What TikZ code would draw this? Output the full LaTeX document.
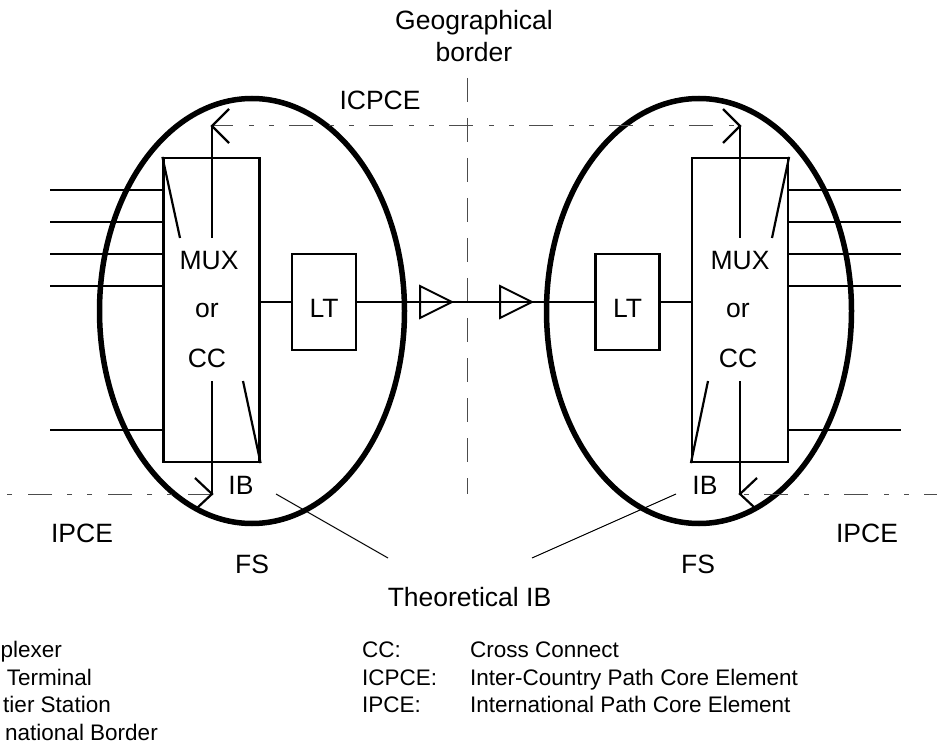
\documentclass[tikz,border=0pt]{standalone}
\usepackage{fontspec}
\setmainfont{Liberation Sans}
\usetikzlibrary{shapes.geometric}

\begin{document}
\begin{tikzpicture}[
    x=1pt, y=-1pt,
    wire/.style={draw, line width=2.2pt},
    blockbox/.style={rectangle, draw, line width=2.2pt, minimum width=96pt, inner sep=0pt},
    ltbox/.style={rectangle, draw, line width=2.2pt, minimum width=64pt, minimum height=96pt, inner sep=0pt},
    station/.style={ellipse, draw, line width=5.5pt, minimum width=305pt, minimum height=425pt, inner sep=0pt},
    amp/.style={draw, line width=2pt},
    pathline/.style={draw, line width=1pt, black!70, dash pattern=on 24pt off 16pt on 5pt off 15pt on 5pt off 15pt},
    border/.style={draw, line width=1pt, black!70, dash pattern=on 24pt off 16pt},
    leader/.style={draw, line width=1pt},
    label/.style={font=\fontsize{26.5}{32}\selectfont, inner sep=0pt, anchor=base},
    legend/.style={font=\fontsize{22.5}{26}\selectfont, inner sep=0pt, anchor=base west}
]
\useasboundingbox (0,0) rectangle (937,743);

% Stations
\node[station] (leftfs) at (252,311) {};
\node[station] (rightfs) at (699,311) {};

% Blocks
\node[blockbox, minimum height=304pt] (leftmux) at (211.5,310) {};
\node[blockbox, minimum height=304pt] (rightmux) at (740,310) {};
\node[ltbox] (leftlt) at (324,302) {};
\node[ltbox] (rightlt) at (627.5,302) {};

% Path lines
\coordinate (topleft) at (212,126);
\coordinate (topright) at (740,126);
\coordinate (lowleft) at (212,494);
\coordinate (lowright) at (740,494);
\coordinate (leftend) at (0,494);
\coordinate (rightend) at (937,494);
\draw[pathline, dash phase=3pt] (topleft) -- (topright);
\draw[pathline] (lowleft) -- (leftend);
\draw[pathline, dash phase=56pt] (lowright) -- (rightend);
\draw[border] (467.5,78) -- (467.5,494);

% Tributaries
\foreach \y in {190,222,254,286,430} {
  \draw[wire] (50,\y) -- (163.5,\y);
  \draw[wire] (788,\y) -- (901,\y);
}

% Line
\draw[wire] (leftmux.east |- leftlt) -- (leftlt.west);
\draw[wire] (leftlt.east) -- (rightlt.west);
\draw[wire] (rightlt.east) -- (rightmux.west |- rightlt);

% Amplifiers
\draw[amp] (420,286) -- (452,302) -- (420,318) -- cycle;
\draw[amp] (500,286) -- (532,302) -- (500,318) -- cycle;

% Verticals and open arrow heads
\draw[wire] (212,238) -- (topleft);
\draw[wire] (229,109) -- (topleft) -- (229,143);
\draw[wire] (740,238) -- (topright);
\draw[wire] (723,109) -- (topright) -- (723,143);
\draw[wire] (212,381) -- (lowleft);
\draw[wire] (195,478) -- (lowleft) -- (197,508);
\draw[wire] (740,381) -- (lowright);
\draw[wire] (757,478) -- (lowright) -- (755,508);

% Diagonals
\draw[wire] (leftmux.north west) -- (180,238);
\draw[wire] (rightmux.north east) -- (772,238);
\draw[wire] (leftmux.south east) -- (243,381);
\draw[wire] (rightmux.south west) -- (708,381);

% Labels
\node[label] (geoa) at (474,30) {Geographical};
\node[label] (geob) at (474,62) {border};
\node[label] (icpce) at (380,110) {ICPCE};
\node[label] (muxa) at (209,270) {MUX};
\node[label] (ora) at (207,318) {or};
\node[label] (cca) at (207,367) {CC};
\node[label] (muxb) at (740,270) {MUX};
\node[label] (orb) at (738,318) {or};
\node[label] (ccb) at (738,367) {CC};
\node[label] (lta) at (324,318) {LT};
\node[label] (ltb) at (627.5,318) {LT};
\node[label] (iba) at (241,494) {IB};
\node[label] (ibb) at (705,494) {IB};
\node[label] (ipcea) at (82,542) {IPCE};
\node[label] (ipceb) at (867,542) {IPCE};
\node[label] (fsa) at (252,573) {FS};
\node[label] (fsb) at (698,573) {FS};
\node[label] (theoib) at (469.5,606) {Theoretical IB};

% Leaders
\draw[leader] (276,494) -- (388,558);
\draw[leader] (676,494) -- (532,558);

% Legend
\node[legend, anchor=base east] at (62,657.5) {plexer};
\node[legend, anchor=base east] at (92,685) {Terminal};
\node[legend, anchor=base east] at (111,712.5) {tier Station};
\node[legend, anchor=base east] at (158,740) {national Border};
\node[legend] at (362,657.5) {CC:};
\node[legend] at (362,685) {ICPCE:};
\node[legend] at (362,712.5) {IPCE:};
\node[legend] at (470,657.5) {Cross Connect};
\node[legend] at (470,685) {Inter-Country Path Core Element};
\node[legend] at (470,712.5) {International Path Core Element};

\end{tikzpicture}
\end{document}
